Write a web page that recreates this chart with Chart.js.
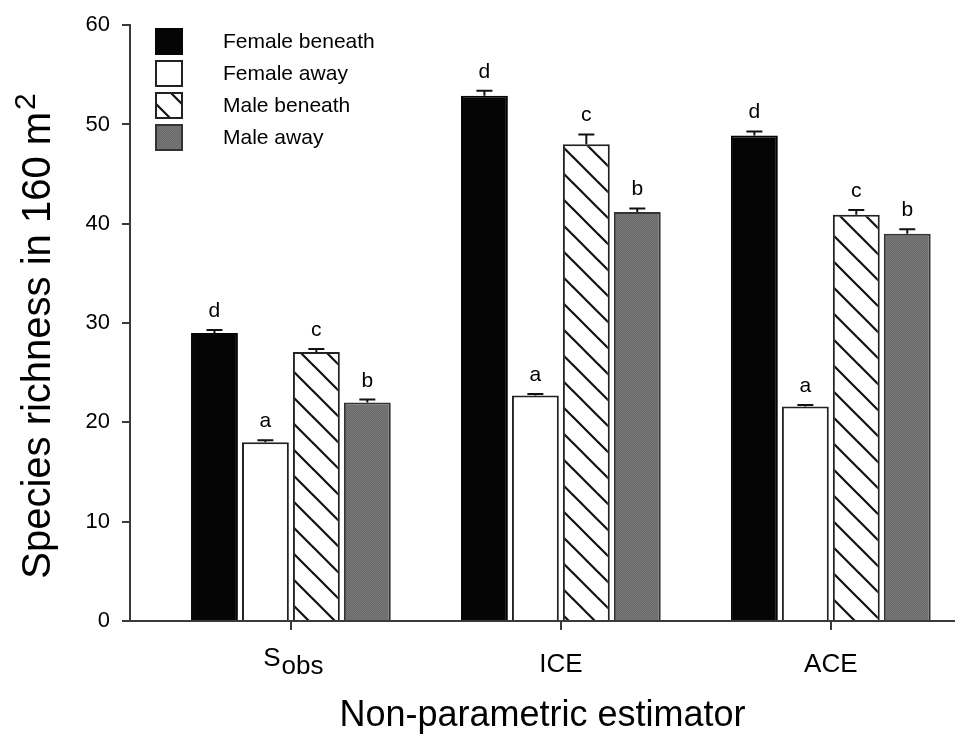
<!DOCTYPE html>
<html>
<head>
<meta charset="utf-8">
<title>Species richness</title>
<style>
  body { margin: 0; background: #fff; }
  canvas { display: block; }
</style>
</head>
<body>
<canvas id="richness" width="955" height="739"></canvas>
<script src="https://cdn.jsdelivr.net/npm/chart.js"></script>
<script>
// values
const categories = ['Sobs', 'ICE', 'ACE'];
const seriesNames = ['Female beneath', 'Female away', 'Male beneath', 'Male away'];
const femaleBeneath = [29.0, 52.9, 48.9];
const femaleAway = [18.0, 22.7, 21.6];
const maleBeneath = [27.1, 48.0, 40.9];
const maleAway = [22.0, 41.2, 39.0];
const femaleBeneathErr = [0.3, 0.5, 0.4];
const femaleAwayErr = [0.2, 0.15, 0.15];
const maleBeneathErr = [0.3, 1.0, 0.5];
const maleAwayErr = [0.3, 0.35, 0.45];
const femaleBeneathSig = ['d', 'd', 'd'];
const femaleAwaySig = ['a', 'a', 'a'];
const maleBeneathSig = ['c', 'c', 'c'];
const maleAwaySig = ['b', 'b', 'b'];
const yTicks = [0, 10, 20, 30, 40, 50, 60];

const FONT = "'Liberation Sans', Arial, sans-serif";
const canvas = document.getElementById('richness');
const ctx = canvas.getContext('2d');

function hatch() {
  const c = document.createElement('canvas');
  c.width = 26; c.height = 26;
  const g = c.getContext('2d');
  g.fillStyle = '#fff';
  g.fillRect(0, 0, 26, 26);
  g.strokeStyle = '#111';
  g.lineWidth = 2.2;
  for (let k = -1; k <= 1; k++) {
    g.beginPath();
    g.moveTo(k * 26 - 3, -3);
    g.lineTo(k * 26 + 29, 29);
    g.stroke();
  }
  return ctx.createPattern(c, 'repeat');
}

function speckle() {
  const c = document.createElement('canvas');
  c.width = 2; c.height = 2;
  const g = c.getContext('2d');
  g.fillStyle = '#6a6a6a';
  g.fillRect(0, 0, 2, 2);
  g.fillStyle = '#787878';
  g.fillRect(0, 0, 1, 1);
  g.fillRect(1, 1, 1, 1);
  return ctx.createPattern(c, 'repeat');
}

const fills = ['#050505', '#ffffff', hatch(), speckle()];
const borders = ['#050505', '#222', '#222', '#333'];
const values = [femaleBeneath, femaleAway, maleBeneath, maleAway];
const errs = [femaleBeneathErr, femaleAwayErr, maleBeneathErr, maleAwayErr];
const sigs = [femaleBeneathSig, femaleAwaySig, maleBeneathSig, maleAwaySig];

const datasets = seriesNames.map((name, i) => ({
  label: name,
  data: values[i].map((v, j) => ({ x: j, y: v })),
  backgroundColor: fills[i],
  borderColor: borders[i],
  borderWidth: 2,
  categoryPercentage: 0.755,
  barPercentage: 0.92
}));

const extras = {
  id: 'extras',
  afterDatasetsDraw(chart) {
    const c = chart.ctx;
    const y = chart.scales.y;
    c.save();
    c.strokeStyle = '#111';
    c.lineWidth = 2;
    c.fillStyle = '#000';
    c.font = '21px ' + FONT;
    c.textAlign = 'center';
    c.textBaseline = 'alphabetic';
    values.forEach((vals, i) => {
      chart.getDatasetMeta(i).data.forEach((bar, j) => {
        const top = y.getPixelForValue(vals[j] + errs[i][j]);
        c.beginPath();
        c.moveTo(bar.x, bar.y);
        c.lineTo(bar.x, top);
        c.moveTo(bar.x - 8, top);
        c.lineTo(bar.x + 8, top);
        c.stroke();
        c.fillText(sigs[i][j], bar.x, top - 13);
      });
    });
    c.restore();
  },
  afterDraw(chart) {
    const c = chart.ctx;
    const x = chart.scales.x;
    c.save();
    c.fillStyle = '#000';

    // category labels, Sobs with a subscript
    c.font = '26px ' + FONT;
    c.textBaseline = 'alphabetic';
    categories.forEach((cat, j) => {
      const px = x.getPixelForValue(j);
      if (cat === 'Sobs') {
        const w1 = c.measureText('S').width;
        const w2 = c.measureText('obs').width;
        const start = px - (w1 + w2) / 2 + 2;
        c.textAlign = 'left';
        c.fillText('S', start, 666);
        c.fillText('obs', start + w1 + 1, 674);
      } else {
        c.textAlign = 'center';
        c.fillText(cat, px, 672);
      }
    });

    // legend
    c.font = '21px ' + FONT;
    c.textAlign = 'left';
    c.textBaseline = 'middle';
    seriesNames.forEach((name, i) => {
      const top = 28 + 32 * i;
      c.fillStyle = fills[i];
      c.fillRect(155, top, 28, 27);
      c.strokeStyle = borders[i];
      c.lineWidth = 2;
      c.strokeRect(156, top + 1, 26, 25);
      c.fillStyle = '#000';
      c.fillText(name, 223, top + 14);
    });

    // y axis title with superscript
    c.font = '40px ' + FONT;
    const main = 'Species richness in 160 m';
    const wMain = c.measureText(main).width;
    c.font = '30px ' + FONT;
    const wSup = c.measureText('2').width;
    const total = wMain + 2 + wSup;
    c.translate(50, 336 + total / 2);
    c.rotate(-Math.PI / 2);
    c.textBaseline = 'alphabetic';
    c.font = '40px ' + FONT;
    c.fillText(main, 0, 0);
    c.font = '30px ' + FONT;
    c.fillText('2', wMain + 2, -15);
    c.restore();
  }
};

new Chart(ctx, {
  type: 'bar',
  data: { datasets: datasets },
  options: {
    responsive: false,
    animation: false,
    layout: { padding: { top: 20, right: 0, left: 0, bottom: 0 } },
    plugins: {
      legend: { display: false },
      tooltip: { enabled: false }
    },
    scales: {
      x: {
        type: 'linear',
        min: -0.596,
        max: 2.46,
        offset: false,
        grid: { offset: false, drawOnChartArea: false, drawTicks: true, tickLength: 9, color: '#3a3a3a', lineWidth: 2 },
        border: { color: '#3a3a3a', width: 2 },
        ticks: { callback: () => '', font: { size: 26, family: FONT } },
        afterBuildTicks: s => { s.ticks = categories.map((c, j) => ({ value: j })); },
        afterFit: s => { s.height = 118; },
        title: {
          display: true,
          text: 'Non-parametric estimator',
          color: '#000',
          font: { size: 36, family: FONT },
          padding: { top: 0, bottom: 1 }
        }
      },
      y: {
        min: 0,
        max: 60,
        grid: { drawOnChartArea: false, drawTicks: true, tickLength: 8, color: '#3a3a3a', lineWidth: 2 },
        border: { color: '#3a3a3a', width: 2 },
        ticks: { color: '#000', padding: 12, font: { size: 22, family: FONT } },
        afterBuildTicks: s => { s.ticks = yTicks.map(v => ({ value: v })); },
        afterFit: s => { s.width = 130; }
      }
    }
  },
  plugins: [extras]
});
</script>
</body>
</html>
